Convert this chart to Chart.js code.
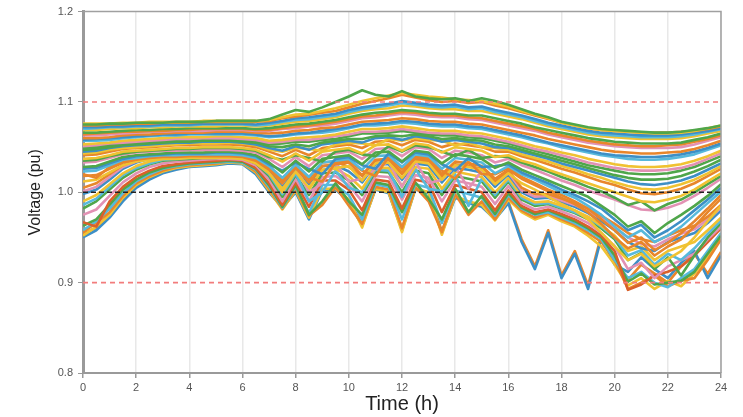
<!DOCTYPE html>
<html>
<head>
<meta charset="utf-8">
<title>Voltage profiles</title>
<script src="https://cdn.jsdelivr.net/npm/chart.js@4.4.1/dist/chart.umd.min.js"></script>
<style>
  body { margin: 0; background: #fff; }
  #wrap { width: 743px; height: 417px; position: relative; }
</style>
</head>
<body>
<div id="wrap"><canvas id="voltChart"></canvas></div>
<script>
// ==== Data ====
const hours = [0,0.5,1,1.5,2,2.5,3,3.5,4,4.5,5,5.5,6,6.5,7,7.5,8,8.5,9,9.5,10,10.5,11,11.5,12,12.5,
  13,13.5,14,14.5,15,15.5,16,16.5,17,17.5,18,18.5,19,19.5,20,20.5,21,21.5,22,22.5,23,23.5,24];

const xTicks = [0,2,4,6,8,10,12,14,16,18,20,22,24];
const yTicks = [0.8,0.9,1.0,1.1,1.2];
const limitLevels = [1.1, 0.9];   // red dashed limits
const nominalLevel = [1.0];       // black dashed line

// strong buses (top of the band)
const t1 = [1.075,1.075,1.076,1.076,1.077,1.077,1.077,1.078,1.078,1.078,1.079,1.079,1.079,1.079,
  1.081,1.086,1.091,1.089,1.094,1.100,1.106,1.113,1.108,1.106,1.112,1.106,1.104,1.103,1.104,1.101,1.104,1.101,1.097,
  1.092,1.087,1.083,1.078,1.075,1.072,1.070,1.069,1.068,1.067,1.066,1.066,1.067,1.069,1.071,1.074];
const e1 = [1.076,1.076,1.076,1.077,1.077,1.078,1.078,1.078,1.078,1.079,1.079,1.079,1.079,1.079,
  1.080,1.083,1.086,1.087,1.090,1.093,1.097,1.101,1.104,1.107,1.110,1.108,1.106,1.105,1.103,1.102,1.101,1.098,1.095,
  1.090,1.086,1.082,1.077,1.074,1.071,1.069,1.068,1.067,1.066,1.065,1.065,1.066,1.068,1.071,1.074];
const t2 = [1.074,1.074,1.075,1.075,1.076,1.076,1.077,1.077,1.077,1.078,1.078,1.078,1.078,1.078,
  1.079,1.082,1.084,1.086,1.088,1.090,1.094,1.098,1.101,1.104,1.108,1.105,1.102,1.100,1.101,1.099,1.100,1.096,1.093,
  1.089,1.085,1.081,1.077,1.074,1.071,1.069,1.068,1.067,1.066,1.066,1.066,1.067,1.068,1.070,1.073];
const t3 = [1.072,1.072,1.073,1.073,1.074,1.074,1.075,1.075,1.075,1.076,1.076,1.076,1.076,1.075,
  1.077,1.079,1.082,1.083,1.085,1.087,1.091,1.094,1.096,1.098,1.101,1.099,1.097,1.096,1.097,1.094,1.095,1.091,1.088,
  1.085,1.081,1.077,1.074,1.071,1.068,1.066,1.065,1.064,1.063,1.063,1.063,1.064,1.066,1.068,1.071];
const e2 = [1.070,1.071,1.072,1.072,1.073,1.073,1.074,1.074,1.074,1.075,1.075,1.075,1.075,1.074,
  1.075,1.078,1.080,1.081,1.083,1.085,1.089,1.092,1.094,1.096,1.099,1.097,1.095,1.094,1.095,1.092,1.093,1.089,1.086,
  1.083,1.079,1.075,1.072,1.069,1.066,1.064,1.063,1.062,1.061,1.061,1.061,1.062,1.064,1.067,1.070];
const t4 = [1.069,1.069,1.070,1.071,1.071,1.072,1.072,1.073,1.073,1.073,1.073,1.074,1.074,1.073,
  1.074,1.076,1.078,1.079,1.081,1.083,1.087,1.090,1.092,1.093,1.096,1.095,1.093,1.092,1.092,1.090,1.090,1.087,1.084,
  1.081,1.077,1.073,1.070,1.067,1.064,1.062,1.061,1.060,1.059,1.059,1.059,1.060,1.062,1.065,1.068];
const t5 = [1.066,1.066,1.067,1.068,1.069,1.069,1.070,1.070,1.071,1.071,1.071,1.071,1.071,1.070,
  1.071,1.073,1.075,1.076,1.078,1.080,1.083,1.086,1.088,1.089,1.091,1.090,1.088,1.087,1.087,1.085,1.085,1.082,1.079,
  1.076,1.072,1.069,1.066,1.063,1.060,1.058,1.056,1.055,1.054,1.054,1.054,1.055,1.058,1.061,1.065];
const e3 = [1.064,1.065,1.066,1.067,1.067,1.068,1.068,1.069,1.069,1.070,1.070,1.070,1.070,1.069,
  1.069,1.071,1.073,1.074,1.076,1.078,1.081,1.084,1.085,1.087,1.089,1.088,1.086,1.085,1.085,1.083,1.082,1.079,1.076,
  1.073,1.070,1.066,1.063,1.060,1.057,1.055,1.053,1.052,1.051,1.051,1.052,1.053,1.056,1.059,1.063];
const t6 = [1.063,1.063,1.064,1.065,1.066,1.067,1.067,1.068,1.068,1.068,1.069,1.069,1.069,1.068,
  1.068,1.070,1.071,1.073,1.074,1.076,1.079,1.082,1.083,1.085,1.087,1.086,1.084,1.083,1.083,1.081,1.080,1.077,1.074,
  1.071,1.068,1.064,1.061,1.058,1.055,1.053,1.051,1.050,1.049,1.049,1.049,1.050,1.053,1.057,1.061];
const t7 = [1.060,1.060,1.061,1.063,1.064,1.064,1.065,1.066,1.066,1.066,1.067,1.067,1.067,1.066,
  1.065,1.066,1.068,1.069,1.071,1.072,1.075,1.078,1.079,1.080,1.082,1.081,1.079,1.078,1.078,1.076,1.075,1.072,1.069,
  1.066,1.063,1.059,1.056,1.053,1.050,1.047,1.045,1.044,1.043,1.043,1.044,1.045,1.048,1.052,1.057];
const e4 = [1.058,1.059,1.060,1.061,1.062,1.063,1.064,1.064,1.065,1.065,1.065,1.065,1.065,1.064,
  1.062,1.063,1.065,1.066,1.068,1.070,1.072,1.075,1.076,1.077,1.079,1.078,1.076,1.075,1.075,1.073,1.072,1.069,1.066,
  1.063,1.059,1.055,1.052,1.049,1.046,1.043,1.041,1.040,1.039,1.039,1.040,1.042,1.045,1.049,1.054];
const t8 = [1.057,1.057,1.058,1.060,1.061,1.062,1.063,1.063,1.064,1.064,1.064,1.064,1.064,1.063,
  1.061,1.062,1.064,1.065,1.066,1.068,1.071,1.074,1.074,1.075,1.077,1.076,1.074,1.073,1.073,1.071,1.070,1.067,1.064,
  1.061,1.057,1.054,1.050,1.047,1.044,1.041,1.039,1.037,1.036,1.036,1.037,1.039,1.042,1.047,1.052];
const t9 = [1.053,1.054,1.055,1.057,1.058,1.059,1.060,1.061,1.061,1.061,1.062,1.062,1.061,1.060,
  1.057,1.058,1.060,1.061,1.062,1.064,1.067,1.070,1.070,1.071,1.073,1.071,1.069,1.068,1.068,1.066,1.065,1.062,1.059,
  1.055,1.051,1.048,1.044,1.041,1.037,1.034,1.031,1.029,1.028,1.028,1.029,1.031,1.035,1.040,1.046];
const e5 = [1.051,1.052,1.054,1.055,1.056,1.057,1.058,1.059,1.059,1.060,1.060,1.060,1.059,1.058,
  1.055,1.056,1.058,1.058,1.060,1.062,1.064,1.067,1.067,1.068,1.070,1.068,1.066,1.065,1.065,1.063,1.062,1.059,1.056,
  1.052,1.048,1.045,1.041,1.037,1.033,1.030,1.027,1.025,1.024,1.024,1.025,1.027,1.031,1.037,1.043];
const t10 = [1.049,1.050,1.052,1.054,1.055,1.056,1.057,1.058,1.058,1.059,1.059,1.059,1.058,1.057,
  1.053,1.054,1.056,1.056,1.058,1.059,1.062,1.065,1.065,1.066,1.068,1.066,1.064,1.063,1.063,1.061,1.060,1.057,1.054,
  1.050,1.046,1.042,1.038,1.034,1.030,1.027,1.024,1.021,1.020,1.020,1.021,1.024,1.028,1.034,1.040];
const e6 = [1.047,1.048,1.050,1.052,1.053,1.054,1.055,1.056,1.056,1.057,1.057,1.057,1.056,1.055,
  1.051,1.050,1.053,1.051,1.055,1.057,1.059,1.059,1.062,1.063,1.062,1.064,1.062,1.059,1.060,1.058,1.057,1.053,1.051,
  1.047,1.043,1.039,1.035,1.031,1.027,1.023,1.019,1.016,1.014,1.014,1.015,1.018,1.023,1.029,1.036];

// middle buses
const m1 = [1.045,1.046,1.049,1.051,1.052,1.053,1.054,1.055,1.055,1.056,1.056,1.056,1.055,1.053,
  1.049,1.046,1.051,1.047,1.053,1.055,1.057,1.055,1.060,1.061,1.058,1.062,1.060,1.056,1.058,1.056,1.054,1.050,1.049,
  1.045,1.041,1.037,1.032,1.028,1.024,1.020,1.016,1.012,1.009,1.008,1.010,1.013,1.018,1.025,1.032];
const f1 = [1.043,1.044,1.047,1.049,1.050,1.051,1.052,1.053,1.054,1.054,1.054,1.055,1.054,1.052,
  1.047,1.045,1.049,1.048,1.046,1.053,1.055,1.054,1.052,1.059,1.057,1.060,1.058,1.057,1.052,1.055,1.050,1.049,1.047,
  1.042,1.038,1.034,1.029,1.025,1.020,1.016,1.011,1.007,1.004,1.003,1.005,1.009,1.014,1.021,1.029];
const m2 = [1.041,1.042,1.045,1.048,1.049,1.050,1.051,1.052,1.052,1.053,1.053,1.053,1.052,1.050,
  1.045,1.040,1.047,1.041,1.049,1.051,1.053,1.049,1.056,1.057,1.052,1.058,1.056,1.050,1.054,1.052,1.050,1.045,1.045,
  1.040,1.036,1.031,1.026,1.022,1.017,1.012,1.008,1.003,0.999,0.998,1.000,1.004,1.010,1.018,1.026];
const m3 = [1.037,1.038,1.041,1.045,1.046,1.047,1.048,1.049,1.049,1.050,1.050,1.050,1.049,1.047,
  1.041,1.034,1.043,1.035,1.045,1.047,1.049,1.043,1.052,1.053,1.046,1.054,1.052,1.044,1.050,1.048,1.046,1.039,1.041,
  1.035,1.031,1.025,1.020,1.015,1.010,1.005,1.000,0.995,0.990,0.989,0.992,0.996,1.003,1.012,1.021];
const f2 = [1.035,1.036,1.040,1.043,1.045,1.046,1.047,1.048,1.048,1.049,1.049,1.049,1.048,1.046,
  1.039,1.036,1.041,1.038,1.034,1.045,1.047,1.042,1.040,1.051,1.045,1.052,1.050,1.045,1.040,1.047,1.038,1.040,1.039,
  1.033,1.028,1.023,1.017,1.012,1.006,1.001,0.994,0.986,0.990,0.980,0.987,0.992,1.000,1.009,1.018];
const m4 = [1.033,1.034,1.038,1.042,1.044,1.045,1.046,1.046,1.047,1.047,1.047,1.047,1.046,1.044,
  1.037,1.028,1.039,1.029,1.041,1.043,1.045,1.037,1.048,1.049,1.040,1.050,1.048,1.038,1.046,1.044,1.041,1.033,1.037,
  1.030,1.025,1.019,1.013,1.008,1.002,0.997,0.992,0.986,0.981,0.980,0.983,0.988,0.996,1.005,1.015];
const m5 = [1.028,1.029,1.034,1.039,1.041,1.042,1.043,1.044,1.044,1.044,1.045,1.045,1.044,1.041,
  1.033,1.022,1.035,1.023,1.037,1.039,1.041,1.031,1.044,1.045,1.034,1.046,1.044,1.032,1.042,1.040,1.037,1.027,1.033,
  1.025,1.019,1.013,1.007,1.001,0.995,0.985,0.975,0.962,0.968,0.955,0.966,0.975,0.985,0.996,1.009];
const f3 = [1.026,1.027,1.032,1.037,1.040,1.041,1.042,1.043,1.043,1.043,1.044,1.044,1.043,1.040,
  1.031,1.024,1.033,1.026,1.020,1.037,1.039,1.030,1.026,1.043,1.033,1.044,1.042,1.031,1.024,1.038,1.028,1.029,1.031,
  1.022,1.016,1.010,1.003,0.997,0.990,0.982,0.970,0.958,0.964,0.950,0.958,0.968,0.980,0.992,1.005];
const m6 = [1.023,1.024,1.030,1.036,1.038,1.040,1.041,1.041,1.042,1.042,1.042,1.042,1.041,1.038,
  1.029,1.016,1.031,1.017,1.033,1.035,1.037,1.025,1.040,1.041,1.028,1.042,1.040,1.026,1.038,1.036,1.033,1.021,1.029,
  1.020,1.014,1.007,1.000,0.994,0.985,0.975,0.962,0.950,0.958,0.945,0.952,0.962,0.975,0.988,1.001];
const f4 = [1.020,1.016,1.028,1.034,1.037,1.039,1.040,1.040,1.041,1.041,1.041,1.041,1.040,1.036,
  1.027,1.015,1.029,1.016,1.012,1.033,1.035,1.024,1.018,1.039,1.026,1.040,1.038,1.024,1.015,1.034,1.020,1.020,1.027,
  1.017,1.010,1.003,0.997,0.990,0.982,0.970,0.958,0.944,0.950,0.936,0.944,0.955,0.968,0.982,0.997];
const m7 = [1.018,1.019,1.026,1.033,1.036,1.038,1.039,1.039,1.040,1.040,1.040,1.040,1.039,1.035,
  1.025,1.010,1.027,1.011,1.029,1.031,1.033,1.019,1.036,1.037,1.022,1.038,1.036,1.020,1.034,1.032,1.029,1.015,1.025,
  1.015,1.008,1.001,0.994,0.987,0.978,0.965,0.950,0.938,0.945,0.930,0.940,0.948,0.962,0.978,0.993];
const m8 = [1.012,1.014,1.022,1.030,1.034,1.036,1.037,1.037,1.038,1.038,1.038,1.038,1.037,1.032,
  1.021,1.004,1.023,1.005,1.025,1.027,1.029,1.013,1.032,1.033,1.016,1.034,1.032,1.014,1.030,1.028,1.025,1.009,1.021,
  1.010,1.003,0.995,0.987,0.980,0.970,0.955,0.940,0.925,0.932,0.918,0.926,0.935,0.950,0.968,0.985];

// weak buses (bottom of the band)
const l1 = [1.005,1.010,1.020,1.030,1.036,1.039,1.041,1.042,1.042,1.043,1.043,1.043,1.042,1.038,
  1.030,1.012,1.031,1.015,1.033,1.034,1.028,1.018,1.035,1.036,1.020,1.036,1.034,1.017,1.031,1.029,1.026,1.012,1.024,
  1.005,0.998,0.998,0.993,0.988,0.982,0.974,0.965,0.955,0.948,0.945,0.952,0.958,0.963,0.973,0.986];
const g1 = [1.001,1.006,1.017,1.028,1.034,1.038,1.040,1.041,1.042,1.042,1.042,1.043,1.042,1.037,
  1.028,1.010,1.029,1.000,1.010,1.032,1.012,1.015,1.026,1.034,1.006,1.034,1.010,1.014,1.029,1.004,1.024,1.009,1.022,
  1.002,0.995,0.996,0.991,0.986,0.979,0.971,0.961,0.950,0.943,0.940,0.948,0.954,0.959,0.970,0.983];
const l2 = [0.998,1.003,1.014,1.026,1.033,1.037,1.039,1.040,1.041,1.041,1.041,1.042,1.041,1.036,
  1.026,1.006,1.027,1.009,1.029,1.030,1.023,1.011,1.031,1.031,1.014,1.032,1.030,1.011,1.027,1.025,1.022,1.006,1.020,
  1.000,0.993,0.994,0.989,0.984,0.977,0.968,0.958,0.945,0.938,0.935,0.945,0.950,0.955,0.966,0.980];
const l3 = [0.990,0.997,1.009,1.021,1.029,1.034,1.037,1.038,1.039,1.039,1.040,1.040,1.039,1.034,
  1.022,1.000,1.023,1.003,1.025,1.026,1.018,1.004,1.027,1.027,1.007,1.028,1.026,1.004,1.023,1.020,1.017,1.000,1.016,
  0.996,0.989,0.990,0.985,0.980,0.973,0.963,0.952,0.935,0.940,0.925,0.935,0.940,0.945,0.958,0.972];
const g2 = [0.986,0.993,1.006,1.019,1.027,1.032,1.036,1.037,1.038,1.039,1.039,1.040,1.039,1.033,
  1.020,0.998,1.021,0.990,1.000,1.024,1.005,1.000,1.025,1.024,0.995,1.026,1.004,1.001,1.020,0.985,1.015,0.997,1.014,
  0.994,0.987,0.988,0.983,0.978,0.972,0.962,0.950,0.930,0.936,0.920,0.932,0.925,0.938,0.954,0.969];
const l4 = [0.982,0.990,1.003,1.016,1.025,1.031,1.035,1.036,1.037,1.038,1.038,1.039,1.038,1.032,
  1.018,0.995,1.019,0.997,1.021,1.022,1.013,0.997,1.023,1.022,1.000,1.024,1.021,0.997,1.018,1.015,1.012,0.994,1.012,
  0.992,0.985,0.987,0.982,0.977,0.970,0.960,0.948,0.925,0.933,0.915,0.928,0.908,0.930,0.950,0.966];
const l5 = [0.975,0.981,0.996,1.011,1.021,1.028,1.032,1.034,1.035,1.036,1.037,1.037,1.036,1.030,
  1.014,0.990,1.015,0.990,1.017,1.018,1.008,0.990,1.018,1.017,0.992,1.019,1.016,0.990,1.013,1.010,1.006,0.987,1.007,
  0.988,0.981,0.984,0.979,0.973,0.966,0.955,0.940,0.915,0.922,0.905,0.918,0.925,0.932,0.948,0.962];
const l6 = [0.967,0.962,0.990,1.006,1.017,1.024,1.029,1.031,1.033,1.034,1.035,1.036,1.035,1.027,
  1.010,0.986,1.011,0.984,1.013,1.013,1.003,0.980,1.014,1.012,0.982,1.014,1.011,0.978,1.008,1.004,1.000,0.980,1.002,
  0.985,0.978,0.981,0.976,0.970,0.962,0.952,0.935,0.892,0.898,0.908,0.912,0.918,0.930,0.945,0.960];
const g3 = [0.963,0.970,0.986,1.003,1.014,1.022,1.027,1.030,1.032,1.033,1.034,1.035,1.034,1.026,
  1.008,0.984,1.008,0.975,0.990,1.010,0.990,0.975,1.011,1.008,0.978,1.011,0.993,0.970,1.004,0.978,0.996,0.976,0.999,
  0.983,0.976,0.980,0.974,0.968,0.960,0.950,0.930,0.901,0.910,0.898,0.900,0.902,0.912,0.932,0.952];
const l7 = [0.958,0.968,0.982,0.999,1.012,1.020,1.026,1.029,1.031,1.032,1.033,1.034,1.033,1.025,
  1.006,0.983,1.006,0.977,1.008,1.008,0.997,0.970,1.009,1.006,0.970,1.009,1.005,0.966,1.002,0.998,0.994,0.974,0.997,
  0.982,0.975,0.978,0.972,0.966,0.958,0.948,0.925,0.905,0.912,0.900,0.895,0.905,0.915,0.935,0.955];
const g4 = [0.956,0.966,0.978,0.996,1.010,1.018,1.024,1.028,1.030,1.031,1.032,1.034,1.033,1.023,
  1.004,0.982,1.004,0.974,0.986,1.006,0.985,0.965,1.006,1.003,0.960,1.006,0.990,0.956,0.998,0.975,0.990,0.970,0.994,
  0.980,0.972,0.977,0.970,0.964,0.955,0.945,0.925,0.893,0.900,0.908,0.896,0.902,0.905,0.925,0.948];
const l8 = [0.952,0.962,0.975,0.994,1.008,1.017,1.023,1.027,1.029,1.030,1.031,1.033,1.032,1.022,
  1.002,0.981,1.002,0.972,1.004,1.004,0.992,0.961,1.004,1.000,0.956,1.004,1.000,0.953,0.996,0.990,0.986,0.969,0.992,
  0.978,0.970,0.975,0.968,0.962,0.952,0.940,0.920,0.897,0.905,0.893,0.902,0.896,0.910,0.928,0.950];

// the feeder end that falls away after 16 h
const o1 = [0.950,0.958,0.972,0.990,1.005,1.014,1.021,1.025,1.028,1.029,1.030,1.032,1.031,1.020,
  1.000,0.983,1.000,0.970,1.002,1.003,0.990,0.963,1.003,0.999,0.958,1.003,0.999,0.955,0.994,0.988,0.984,0.970,0.988,
  0.945,0.915,0.955,0.905,0.932,0.893,0.950,0.920,0.912,0.928,0.915,0.905,0.922,0.935,0.905,0.930];
const o2 = [0.954,0.961,0.975,0.992,1.006,1.015,1.022,1.026,1.029,1.030,1.031,1.033,1.032,1.021,
  1.001,0.985,1.001,0.972,1.003,1.004,0.991,0.965,1.004,1.000,0.960,1.004,1.000,0.957,0.995,0.989,0.985,0.972,0.990,
  0.948,0.918,0.958,0.908,0.935,0.897,0.953,0.923,0.903,0.920,0.910,0.900,0.918,0.932,0.910,0.934];

const voltageSeries = [
  t1, e1, t2, t3, e2, t4, t5, e3, t6, t7, e4, t8, t9, e5, t10, e6,
  m1, f1, m2, m3, f2, m4, m5, f3, m6, f4, m7, m8,
  l1, g1, l2, l3, g2, l4, l5, l6, g3, l7, g4, l8,
  o1, o2
];

// ==== Styling ====
const C = { blue: '#3d8fc6', orange: '#e8862b', yellow: '#f0c232', green: '#4fa64a',
            pink: '#e291b4', teal: '#57b9dc', red: '#d9602a' };
const lineColors = [
  C.green, C.yellow, C.orange, C.blue, C.teal, C.yellow, C.green, C.orange, C.pink, C.orange, C.blue, C.teal, C.yellow, C.pink, C.green, C.green,
  C.blue, C.yellow, C.orange, C.yellow, C.green, C.pink, C.green, C.blue, C.teal, C.orange, C.orange, C.yellow,
  C.orange, C.pink, C.blue, C.yellow, C.teal, C.green, C.pink, C.red, C.green, C.teal, C.orange, C.yellow,
  C.blue, C.orange
];

const toPoints = arr => arr.map((v, i) => ({ x: hours[i], y: v }));
const flatLine = lvl => [{ x: hours[0], y: lvl }, { x: hours[hours.length - 1], y: lvl }];

const datasets = [];
limitLevels.forEach(lvl => datasets.push({
  data: flatLine(lvl), borderColor: '#f27c7c', borderWidth: 1.6, borderDash: [5, 4],
  pointRadius: 0, order: -1
}));
nominalLevel.forEach(lvl => datasets.push({
  data: flatLine(lvl), borderColor: '#222', borderWidth: 1.4, borderDash: [5, 3],
  pointRadius: 0, order: -1
}));
voltageSeries.forEach((s, k) => datasets.push({
  data: toPoints(s), borderColor: lineColors[k], borderWidth: 2.6,
  pointRadius: 0, tension: 0, borderJoinStyle: 'round', order: 0
}));

// top/right frame like the original axes box
const frame = {
  id: 'frame',
  afterDraw(chart) {
    const { ctx, chartArea: a } = chart;
    ctx.save();
    ctx.strokeStyle = '#a0a0a0';
    ctx.lineWidth = 1.5;
    ctx.beginPath();
    ctx.moveTo(a.left, a.top);
    ctx.lineTo(a.right, a.top);
    ctx.lineTo(a.right, a.bottom);
    ctx.stroke();
    ctx.restore();
  }
};

const tickFont = { family: '"Liberation Sans", Arial, sans-serif', size: 11 };

new Chart(document.getElementById('voltChart').getContext('2d'), {
  type: 'line',
  data: { datasets },
  options: {
    responsive: true,
    maintainAspectRatio: false,
    animation: false,
    layout: { padding: { left: 0, right: 22, top: 10, bottom: 0 } },
    plugins: { legend: { display: false }, tooltip: { enabled: false } },
    scales: {
      x: {
        type: 'linear', min: 0, max: 24,
        afterBuildTicks: s => { s.ticks = xTicks.map(v => ({ value: v })); },
        afterFit: s => { s.height = 44; },
        ticks: { font: tickFont, color: '#555', padding: 3, maxRotation: 0, autoSkip: false },
        grid: { color: '#e8e8e8', lineWidth: 1.5, tickColor: '#999', tickLength: 5 },
        border: { display: true, color: '#9a9a9a', width: 2 },
        title: { display: true, text: 'Time (h)', color: '#222',
                 font: { family: '"Liberation Sans", Arial, sans-serif', size: 20 },
                 padding: { top: 0, bottom: 1 } }
      },
      y: {
        min: 0.8, max: 1.2,
        afterBuildTicks: s => { s.ticks = yTicks.map(v => ({ value: v })); },
        afterFit: s => { s.width = 83; },
        ticks: { font: tickFont, color: '#555', padding: 5, callback: v => v.toFixed(1) },
        grid: { drawOnChartArea: false, tickColor: '#999', tickLength: 5 },
        border: { display: true, color: '#9a9a9a', width: 3 },
        title: { display: true, text: 'Voltage (pu)', color: '#222',
                 font: { family: '"Liberation Sans", Arial, sans-serif', size: 16 },
                 padding: { top: 26, bottom: 0 } }
      }
    }
  },
  plugins: [frame]
});
</script>
</body>
</html>
